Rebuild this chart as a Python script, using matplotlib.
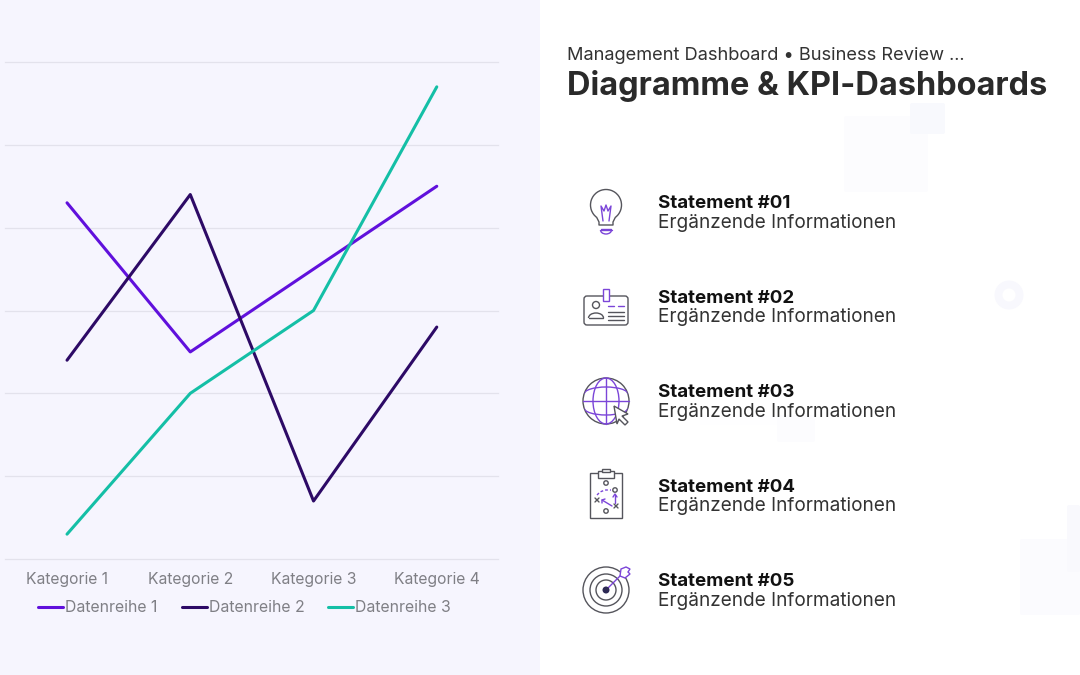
import matplotlib
matplotlib.use("Agg")
import matplotlib.pyplot as plt
from matplotlib.patches import Rectangle, Circle, Ellipse, FancyBboxPatch, Polygon, Arc
import numpy as np

categories = ["Kategorie 1", "Kategorie 2", "Kategorie 3", "Kategorie 4"]
series_names = ["Datenreihe 1", "Datenreihe 2", "Datenreihe 3"]
series_1 = [4.3, 2.5, 3.5, 4.5]
series_2 = [2.4, 4.4, 0.7, 2.8]
series_3 = [0.3, 2.0, 3.0, 5.7]
series_colors = ["#6010DC", "#2D0A66", "#14BFA6"]
statements = ["Statement #01", "Statement #02", "Statement #03", "Statement #04", "Statement #05"]
detail = "Ergänzende Informationen"

FONT = ["Inter", "DejaVu Sans"]
plt.rcParams["font.family"] = FONT
W, H = 1080, 675
fig = plt.figure(figsize=(10.8, 6.75), dpi=100, facecolor="white")

# page layer in pixel coordinates
bg = fig.add_axes([0, 0, 1, 1], zorder=0)
bg.set_xlim(0, W); bg.set_ylim(H, 0); bg.axis("off")
bg.add_patch(Rectangle((0, 0), 540, 675, fc="#F6F5FE", ec="none"))
for x, y, w, h, c in [(844, 116, 84, 76, "#FCFCFE"), (910, 103, 35, 31, "#F8F9FD"),
                      (1020, 539, 60, 76, "#FBFBFE"), (1067, 505, 13, 67, "#F9F9FD"),
                      (777, 415, 38, 27, "#FCFCFE"), (700, 415, 77, 10, "#FEFEFF")]:
    bg.add_patch(FancyBboxPatch((x + 2, y + 2), w - 4, h - 4, boxstyle="round,pad=2",
                                fc=c, ec="none"))
bg.add_patch(Circle((1009, 295), 14.5, fc="#F8F8FD", ec="none"))
bg.add_patch(Circle((1009, 295), 6.5, fc="white", ec="none"))

# chart
ax = fig.add_axes([5.4 / W, 1 - 559 / H, 493 / W, (559 - 62) / H], zorder=1)
ax.patch.set_visible(False)
x = np.arange(len(categories))
for vals, name, col in zip([series_1, series_2, series_3], series_names, series_colors):
    ax.plot(x, vals, color=col, lw=2.2, label=name, solid_capstyle="round", zorder=3)
ax.set_xlim(-0.5, 3.5); ax.set_ylim(0, 6)
ax.set_yticks(range(7)); ax.set_yticklabels([])
ax.set_xticks(x); ax.set_xticklabels(categories, fontsize=11.3, color="#7F7F85")
ax.tick_params(length=0, pad=9.7)
ax.grid(axis="y", color="#E3E2EC", lw=0.9); ax.set_axisbelow(True)
for line in ax.get_ygridlines():
    line.set_clip_on(False)
for s in ax.spines.values():
    s.set_visible(False)
leg = ax.legend(loc="center left", bbox_to_anchor=(38 / W, 1 - 608 / H),
                bbox_transform=fig.transFigure, ncol=3, frameon=False,
                fontsize=11.4, labelcolor="#7F7F85", handlelength=1.58, handletextpad=0.13,
                columnspacing=1.52, borderpad=0, borderaxespad=0)

# text & icons layer
fg = fig.add_axes([0, 0, 1, 1], zorder=2)
fg.set_xlim(0, W); fg.set_ylim(H, 0); fg.axis("off"); fg.patch.set_visible(False)
fg.text(567, 55.5, "Management Dashboard • Business Review ...", fontsize=13.15, color="#333333", va="center")
fg.text(567, 85.5, "Diagramme & KPI-Dashboards", fontsize=23.4, fontweight="bold", color="#2A2A2A", va="center")
for i, st in enumerate(statements):
    y0 = 204 + i * 94.4
    fg.text(658, y0, st, fontsize=13.5, fontweight="bold", color="#111111", va="center")
    fg.text(658, y0 + 19, detail, fontsize=13.7, color="#333333", va="center")

DK = "#55555C"; PU = "#7B45D8"; lw = 1.0
def L(xs, ys, c=DK, w=lw, **k):
    fg.plot(xs, ys, color=c, lw=w, solid_capstyle="round", **k)

# bulb
fg.add_patch(Arc((606, 205), 31, 31, theta1=125, theta2=55, ec=DK, lw=lw))
L([597, 599, 599, 613, 613, 615], [218, 222, 225, 225, 222, 218])
L([601, 611], [229, 229], PU)
fg.add_patch(Arc((606, 230), 11, 8, theta1=0, theta2=180, ec=PU, lw=lw))
L([600.5, 611.5], [230, 230], PU)
L([603, 601, 604, 606, 608, 611, 609], [221, 206, 211, 205, 211, 206, 221], PU)
# badge
fg.add_patch(FancyBboxPatch((584, 296), 44, 29, boxstyle="round,pad=0,rounding_size=3", fc="none", ec=DK, lw=lw))
fg.add_patch(Rectangle((603, 289), 6, 12, fc="#FFFFFF", ec=PU, lw=lw))
fg.add_patch(Circle((596, 305), 3.5, fc="none", ec=DK, lw=lw))
fg.add_patch(Arc((596, 318), 15, 10, theta1=180, theta2=360, ec=DK, lw=lw))
L([589, 603], [318, 318])
L([608, 614], [306, 306], PU); L([618, 624], [306, 306], PU)
for yy in [312, 316, 320]:
    L([608, 624], [yy, yy])
# globe
gx, gy = 606, 401
globe = Circle((gx, gy), 23, fc="none", ec=DK, lw=lw)
fg.add_patch(globe)
fg.add_patch(Ellipse((gx, gy), 26, 46, fc="none", ec=PU, lw=lw))
L([gx, gx], [gy - 23, gy + 23], PU)
L([gx - 23, gx + 23], [gy, gy], PU)
a1 = Arc((gx, gy - 7), 44, 14, theta1=180, theta2=360, ec=PU, lw=lw)
a2 = Arc((gx, gy + 7), 44, 14, theta1=0, theta2=180, ec=PU, lw=lw)
fg.add_patch(a1); fg.add_patch(a2)
a1.set_clip_path(globe); a2.set_clip_path(globe)
fg.add_patch(Polygon([(614, 406), (628, 414), (622, 416), (628, 422), (625, 425),
                      (619, 419), (617, 424)], closed=True, fc="white", ec=DK, lw=lw, zorder=5))
# clipboard
fg.add_patch(Rectangle((590, 473), 32, 45, fc="none", ec=DK, lw=lw))
fg.add_patch(Rectangle((598, 471), 16, 7, fc="white", ec=DK, lw=lw, zorder=4))
fg.add_patch(Rectangle((602, 469), 8, 3, fc="white", ec=DK, lw=lw, zorder=4))
for cx, cy in [(606, 483), (615, 490), (606, 511)]:
    fg.add_patch(Circle((cx, cy), 2.2, fc="none", ec=DK, lw=lw))
for cx, cy in [(597, 500), (616, 506)]:
    L([cx - 2, cx + 2], [cy - 2, cy + 2]); L([cx - 2, cx + 2], [cy + 2, cy - 2])
L([597, 600, 605, 611], [495, 492, 490, 490], PU, ls=(0, (2, 1.5)))
L([615, 615], [503, 495], PU); L([613, 615, 617], [497, 494, 497], PU)
L([612, 602], [506, 500], PU); L([602, 602, 605], [503, 500, 499], PU)
# target
tx, ty = 606, 590
for d in [46, 32, 20]:
    fg.add_patch(Circle((tx, ty), d / 2, fc="none", ec=DK, lw=lw))
fg.add_patch(Circle((tx, ty), 3.5, fc="#2D2A55", ec="none", zorder=5))
L([tx, 622], [ty, 574], PU)
fg.add_patch(Polygon([(620, 576), (621, 569), (626, 567), (630, 569), (628, 572),
                      (630, 574), (625, 578)], closed=True, fc="white", ec=PU, lw=lw, zorder=5))

fig.savefig("out.png", dpi=100, facecolor="white")
